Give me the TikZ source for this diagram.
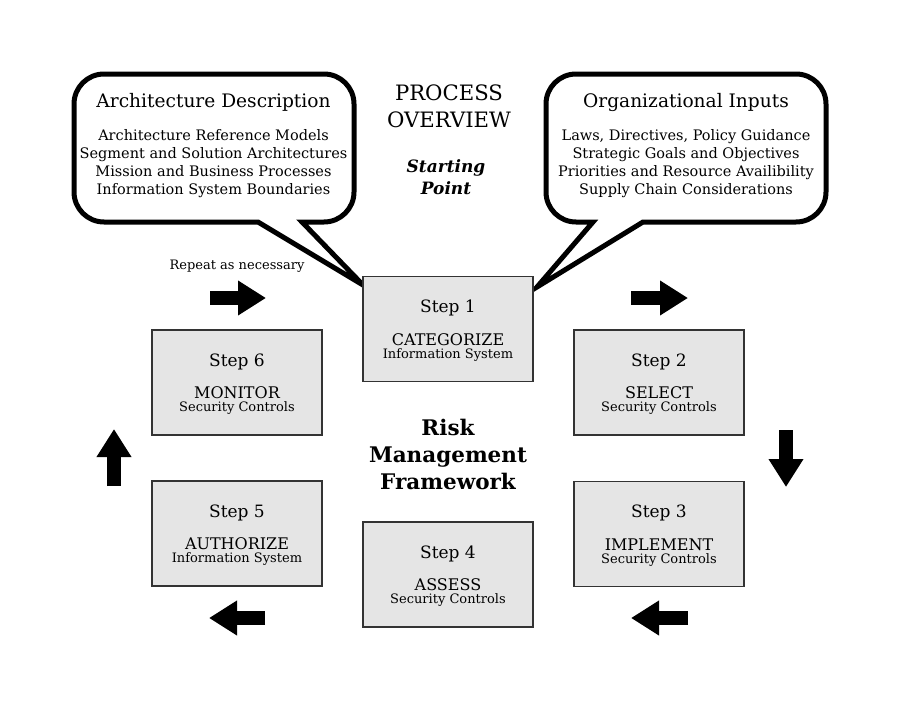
\documentclass[tikz,border=0pt]{standalone}
\usepackage{fontspec}
\setmainfont{DejaVu Serif}
\usetikzlibrary{arrows.meta}

\newcommand{\steptext}[3]{{\fontsize{17}{13}\selectfont\rule{0pt}{16pt}#1}\\[16pt]{\fontsize{16}{13}\selectfont #2}\\#3}

\begin{document}
\begin{tikzpicture}[x=1pt, y=-1pt,
  stepbox/.style={draw=black!80, line width=1.5pt, fill=black!10, minimum width=170pt,
    minimum height=105pt, inner sep=0pt, align=center, font=\fontsize{13}{13}\selectfont},
  callout/.style={draw, line width=5pt, fill=white},
  bubbletext/.style={anchor=north, inner sep=0pt, align=center, font=\fontsize{14.5}{18}\selectfont},
  bigarrow/.style={line width=14pt, -{Triangle[length=28pt, width=33pt]}}]
  \useasboundingbox [fill=white] (0, 0) rectangle (900, 720);

  % speech bubbles
  \draw [callout] (258, 222) [rounded corners=30pt] -- (74, 222) -- (74, 74) -- (354, 74)
    -- (354, 222) [sharp corners] -- (302, 222) -- (363, 285) -- cycle;
  \draw [callout] (643, 222) [rounded corners=30pt] -- (826, 222) -- (826, 74) -- (546, 74)
    -- (546, 222) [sharp corners] -- (593, 222) -- (537, 287) -- cycle;
  \node [bubbletext] (archdesc) at (213.5, 93) {{\fontsize{18.6}{18}\selectfont Architecture Description}\\[15pt]
    Architecture Reference Models\\ Segment and Solution Architectures\\
    Mission and Business Processes\\ Information System Boundaries};
  \node [bubbletext] (orginputs) at (686, 93) {{\fontsize{18.6}{18}\selectfont Organizational Inputs}\\[15pt]
    Laws, Directives, Policy Guidance\\ Strategic Goals and Objectives\\
    Priorities and Resource Availibility\\ Supply Chain Considerations};

  % titles
  \node [align=center, font=\fontsize{21.2}{27}\selectfont] (overview) at (449, 106) {PROCESS\\OVERVIEW};
  \node [align=center, font=\fontsize{17}{22}\selectfont\bfseries\itshape] (start) at (446, 177) {Starting\\Point};
  \node [align=center, font=\fontsize{21.5}{27}\selectfont\bfseries] (rmf) at (448, 454) {Risk\\Management\\Framework};
  \node [font=\fontsize{13}{14}\selectfont] (repeat) at (237, 266) {Repeat as necessary};

  % steps
  \node [stepbox] (s1) at (448, 329) {\steptext{Step 1}{CATEGORIZE}{Information System}};
  \node [stepbox] (s2) at (659, 382.5) {\steptext{Step 2}{SELECT}{Security Controls}};
  \node [stepbox] (s3) at (659, 534) {\steptext{Step 3}{IMPLEMENT}{Security Controls}};
  \node [stepbox] (s4) at (448, 574.5) {\steptext{Step 4}{ASSESS}{Security Controls}};
  \node [stepbox] (s5) at (237, 533.5) {\steptext{Step 5}{AUTHORIZE}{Information System}};
  \node [stepbox] (s6) at (237, 382.5) {\steptext{Step 6}{MONITOR}{Security Controls}};

  % cycle arrows
  \draw [bigarrow] (210, 298) -- (266, 298);
  \draw [bigarrow] (631, 298) -- (688, 298);
  \draw [bigarrow] (786, 430) -- (786, 487);
  \draw [bigarrow] (688, 618) -- (631, 618);
  \draw [bigarrow] (265, 618) -- (209, 618);
  \draw [bigarrow] (114, 486) -- (114, 429);
\end{tikzpicture}
\end{document}
